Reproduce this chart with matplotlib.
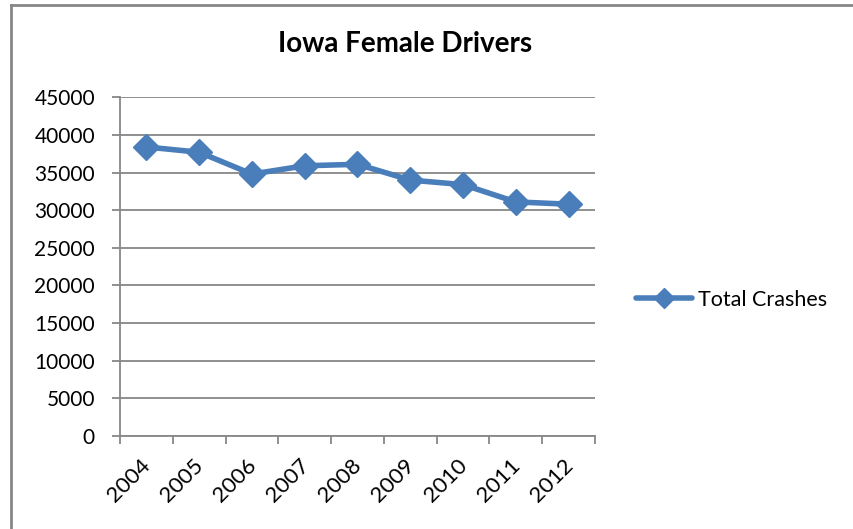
import matplotlib
matplotlib.use("Agg")
import matplotlib.pyplot as plt
import matplotlib.transforms as mtransforms
from matplotlib.lines import Line2D

years = ["2004", "2005", "2006", "2007", "2008", "2009", "2010", "2011", "2012"]
total_crashes = [38400, 37700, 34800, 35900, 36100, 34000, 33400, 31100, 30800]
y_ticks = [0, 5000, 10000, 15000, 20000, 25000, 30000, 35000, 40000, 45000]

plt.rcParams['font.family'] = ['Lato', 'DejaVu Sans']

W, H = 854, 529
fig = plt.figure(figsize=(W / 100, H / 100), dpi=100)
ax = fig.add_axes([120 / W, 1 - 436 / H, (595 - 120) / W, (436 - 97.3) / H])

blue = "#4A7EBB"
grey = "#878787"

x = list(range(len(years)))
ax.plot(x, total_crashes, color=blue, lw=4.0, marker='D', markersize=13,
        markerfacecolor=blue, markeredgecolor=blue, solid_joinstyle='round', zorder=3,
        label="Total Crashes")

ax.set_xlim(-0.5, len(years) - 0.5)
ax.set_ylim(0, 45000)
ax.set_yticks(y_ticks)
ax.set_yticklabels([str(v) for v in y_ticks], fontsize=15)
ax.yaxis.grid(True, color=grey, lw=1.3)
ax.set_axisbelow(True)

ax.set_xticks([i - 0.5 for i in range(len(years) + 1)])
ax.set_xticklabels([])
ax.set_xticks(x, minor=True)
ax.set_xticklabels(years, minor=True, rotation=45, ha='right', va='top',
                   rotation_mode='anchor', fontsize=16)
ax.tick_params(axis='x', which='minor', length=0, pad=14)
ax.tick_params(axis='x', which='major', length=6, width=1.3, color=grey, direction='out')
ax.tick_params(axis='y', length=6, width=1.3, color=grey, pad=12, labelcolor='black')

offset = mtransforms.ScaledTranslation(-6 / 100, 0, fig.dpi_scale_trans)
for lbl in ax.xaxis.get_minorticklabels():
    lbl.set_transform(lbl.get_transform() + offset)

for s in ['top', 'right']:
    ax.spines[s].set_visible(False)
for s in ['left', 'bottom']:
    ax.spines[s].set_color(grey)
    ax.spines[s].set_linewidth(1.3)

fig.text(405 / W, 1 - 44 / H, "Iowa Female Drivers", ha='center', va='center',
         fontsize=20, fontweight='bold')

# legend
leg = fig.legend(handles=[Line2D([0], [0], color=blue, lw=4.0, marker='D', markersize=10,
                                 solid_capstyle='round')],
                 labels=["Total Crashes"], loc='center left',
                 bbox_to_anchor=(617 / W, 1 - 300 / H), frameon=False, fontsize=15.5,
                 handlelength=2.6, handletextpad=0.25)

# outer chart border
fig.add_artist(Line2D([11 / W, 11 / W], [0, 1 - 5 / H], color=grey, lw=2, transform=fig.transFigure))
fig.add_artist(Line2D([11 / W, 1], [1 - 5 / H, 1 - 5 / H], color=grey, lw=2, transform=fig.transFigure))

fig.savefig("out.png", dpi=100)
